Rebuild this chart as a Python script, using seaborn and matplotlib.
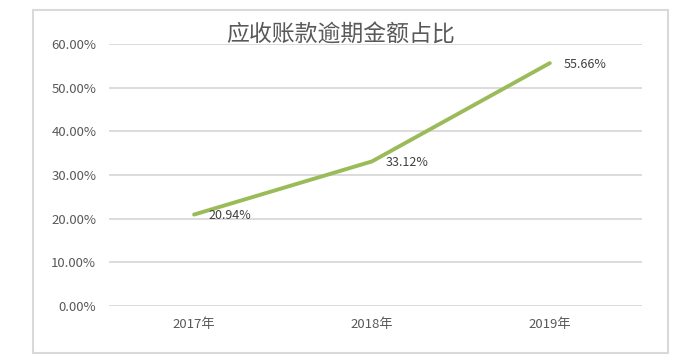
import matplotlib
matplotlib.use("Agg")
import matplotlib.pyplot as plt
import seaborn as sns
import pandas as pd
from matplotlib.patches import Rectangle
from matplotlib.ticker import FuncFormatter

years = ["2017年", "2018年", "2019年"]
ratios = [20.94, 33.12, 55.66]
title = "应收账款逾期金额占比"

sns.set_style("white")
plt.rcParams['font.family'] = ['Noto Sans CJK SC', 'DejaVu Sans']

df = pd.DataFrame({"year": years, "ratio": ratios})

fig = plt.figure(figsize=(6.84, 3.62), dpi=100)
ax = fig.add_axes([0.159, 0.155, 0.78, 0.723])

sns.lineplot(data=df, x="year", y="ratio", ax=ax, color="#9BBB59", linewidth=2.8, sort=False)

ax.set_ylim(0, 60)
ax.set_xlim(-0.48, 2.52)
ax.set_yticks(range(0, 61, 10))
ax.yaxis.set_major_formatter(FuncFormatter(lambda v, p: f"{v:.2f}%"))
ax.grid(axis="y", color="#D9D9D9", linewidth=1.3)
ax.set_axisbelow(True)
for s in ax.spines.values():
    s.set_visible(False)
ax.set_xlabel("")
ax.set_ylabel("")
ax.tick_params(axis="both", length=0, labelsize=9.5, labelcolor="#595959")
ax.tick_params(axis="y", pad=9)
ax.tick_params(axis="x", pad=9)

for i, v in enumerate(ratios):
    ax.annotate(f"{v:.2f}%", (i, v), xytext=(10, -1), textcoords="offset points",
                ha="left", va="center", fontsize=9, color="#404040")

fig.text(341 / 684, 1 - 35 / 362, title, ha="center", va="center", fontsize=16.5,
         color="#595959", fontweight="light")

fig.patches.append(Rectangle((33 / 684, 1 - 353 / 362), 635 / 684, 343 / 362,
                             transform=fig.transFigure, fill=False, edgecolor="#D9D9D9", linewidth=1.5))

fig.savefig("out.png", dpi=100)
